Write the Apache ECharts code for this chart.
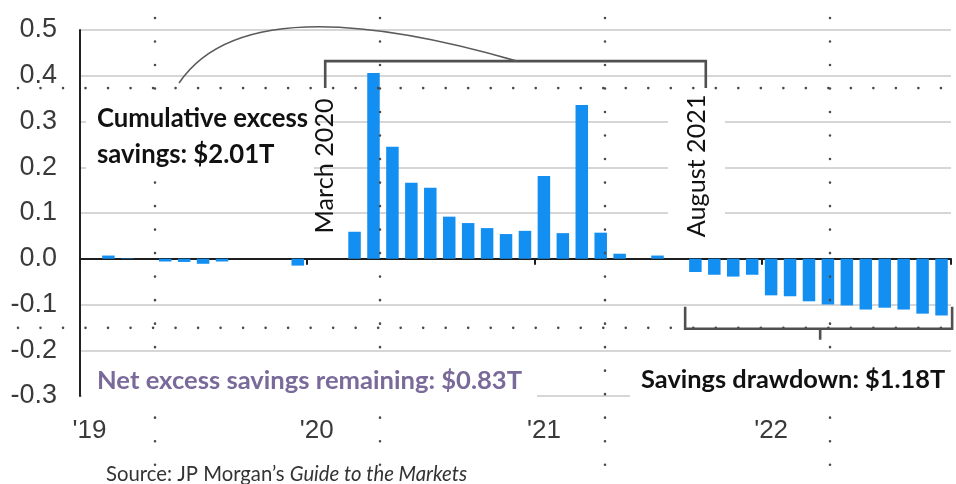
<!DOCTYPE html>
<html>
<head>
<meta charset="utf-8">
<script src="https://cdn.jsdelivr.net/npm/echarts@6/dist/echarts.min.js"></script>
<style>
  html, body { margin: 0; padding: 0; background: #fff; }
  #chart { width: 956px; height: 484px; }
</style>
</head>
<body>
<div id="chart"></div>
<script>
// Monthly change in US excess household savings (trillions of dollars), Jan 2019 - Oct 2022
const months = [
  '2019-01','2019-02','2019-03','2019-04','2019-05','2019-06','2019-07','2019-08','2019-09','2019-10','2019-11','2019-12',
  '2020-01','2020-02','2020-03','2020-04','2020-05','2020-06','2020-07','2020-08','2020-09','2020-10','2020-11','2020-12',
  '2021-01','2021-02','2021-03','2021-04','2021-05','2021-06','2021-07','2021-08','2021-09','2021-10','2021-11','2021-12',
  '2022-01','2022-02','2022-03','2022-04','2022-05','2022-06','2022-07','2022-08','2022-09','2022-10'
];
const excessSavings = [
  0, 0.007, 0.001, 0, -0.006, -0.007, -0.011, -0.006, 0, 0, 0, -0.015,
  0, 0, 0.059, 0.406, 0.245, 0.166, 0.155, 0.092, 0.078, 0.067, 0.054, 0.061,
  0.181, 0.056, 0.336, 0.057, 0.011, 0, 0.007, 0, -0.029, -0.035, -0.039, -0.035,
  -0.080, -0.082, -0.093, -0.100, -0.102, -0.111, -0.107, -0.111, -0.120, -0.124
];
const yearStarts = ['2019-01', '2020-01', '2021-01', '2022-01'];
const yearLabels = ["'19", "'20", "'21", "'22"];
const yMin = -0.3, yMax = 0.5, yStep = 0.1;

const chart = echarts.init(document.getElementById('chart'), null, { renderer: 'canvas' });

chart.setOption({
  animation: false,
  backgroundColor: '#ffffff',
  grid: { left: 80, right: 5, top: 30, bottom: 88, outerBoundsMode: 'none' },
  xAxis: [
    {
      // year labels along the bottom edge
      type: 'category',
      data: months,
      position: 'bottom',
      axisLine: { show: false, onZero: false },
      axisTick: { show: false },
      splitLine: { show: false },
      axisLabel: {
        interval: 0,
        margin: 22,
        fontSize: 26,
        fontFamily: 'Liberation Sans',
        color: '#3a3a3a',
        formatter: v => { const k = yearStarts.indexOf(v); return k >= 0 ? yearLabels[k] : ''; }
      }
    },
    {
      // baseline at zero with year-boundary ticks
      type: 'category',
      data: months,
      position: 'bottom',
      axisLine: { show: true, onZero: true, lineStyle: { color: '#1e1e1e', width: 2 } },
      axisTick: { show: true, length: 6, interval: i => i % 12 === 0, lineStyle: { color: '#1e1e1e', width: 2 } },
      axisLabel: { show: false },
      splitLine: { show: false }
    }
  ],
  yAxis: {
    type: 'value',
    min: yMin, max: yMax, interval: yStep,
    axisLine: { show: true, onZero: false, lineStyle: { color: '#222', width: 2 } },
    axisTick: { show: false },
    axisLabel: {
      margin: 23,
      fontSize: 27,
      fontFamily: 'Liberation Sans',
      color: '#3a3a3a',
      formatter: v => (Math.round(v * 10) / 10).toFixed(1)
    },
    splitLine: { lineStyle: { color: '#d6d6d6', width: 2 } }
  },
  series: [{
    type: 'bar',
    xAxisIndex: 0,
    yAxisIndex: 0,
    data: excessSavings,
    barWidth: 12.5,
    itemStyle: { color: '#138ff2' }
  }]
});

// Annotation overlay positioned from the axes' own scales
const x0 = chart.convertToPixel({ xAxisIndex: 0 }, 0);
const dx = chart.convertToPixel({ xAxisIndex: 0 }, 1) - x0;
const xAt = i => x0 + dx * i;                       // fractional month index -> px
const yAt = v => chart.convertToPixel({ yAxisIndex: 0 }, v);

const dotStyle = (gap) => ({ stroke: '#4a4a4a', lineWidth: 2.6, lineCap: 'round', lineDash: [0.01, gap] });
const bracketStyle = { stroke: '#505050', lineWidth: 2.6, fill: null };

const g = [];
// dotted quadrant guides
[155, 380, 605, 830].forEach(px => g.push({
  type: 'line', z: 50, silent: true,
  shape: { x1: px, y1: 18, x2: px, y2: 470 }, style: dotStyle(23.5)
}));
[yAt(0.373), yAt(-0.151)].forEach(py => g.push({
  type: 'line', z: 50, silent: true,
  shape: { x1: 18, y1: py, x2: 956, y2: py }, style: dotStyle(22.5)
}));

// white panels behind annotation text
const panel = (x1, y1, x2, y2) => ({
  type: 'rect', z: 60, silent: true,
  shape: { x: x1, y: y1, width: x2 - x1, height: y2 - y1 },
  style: { fill: '#ffffff' }
});
g.push(panel(86, 96, 314, 176));
g.push(panel(668, 93, 725, 250));
g.push(panel(82, 359, 537, 402));
g.push(panel(630, 359, 956, 402));

// bracket spanning March 2020 - August 2021
const bL = xAt(12.45), bR = xAt(32.55), bTop = yAt(0.432), bFoot = yAt(0.373);
g.push({ type: 'polyline', z: 70, shape: { points: [[bL, bFoot], [bL, bTop], [bR, bTop], [bR, bFoot]] }, style: bracketStyle });

// connector from the cumulative label to the bracket
g.push({
  type: 'bezierCurve', z: 70,
  shape: {
    x1: xAt(4.73), y1: yAt(0.384),
    cpx1: xAt(7.15), cpy1: yAt(0.533),
    cpx2: xAt(13.23), cpy2: yAt(0.544),
    x2: xAt(22.58), y2: yAt(0.432)
  },
  style: { stroke: '#5a5a5a', lineWidth: 1.6, fill: null }
});

// drawdown bracket under the negative bars
const dL = xAt(31.46), dR = xAt(45.56), dBase = yAt(-0.153), dTop = yAt(-0.105), dMid = xAt(38.59);
g.push({ type: 'polyline', z: 70, shape: { points: [[dL, dTop], [dL, dBase], [dR, dBase], [dR, dTop]] }, style: bracketStyle });
g.push({ type: 'line', z: 70, shape: { x1: dMid, y1: dBase, x2: dMid, y2: yAt(-0.177) }, style: bracketStyle });

// text
const txt = (text, x, y, font, fill) => ({
  type: 'text', z: 80, x: x, y: y,
  style: { text: text, x: 0, y: 0, font: font, fill: fill, align: 'left', verticalAlign: 'middle' }
});

g.push(txt('Cumulative excess', xAt(0.4), yAt(0.306), 'bold 25.7px Lato', '#111'));
g.push(txt('savings: $2.01T', xAt(0.4), yAt(0.227), 'bold 25.7px Lato', '#111'));
g.push(txt('Net excess savings remaining: $0.83T', xAt(0.4), yAt(-0.266), 'bold 25.6px Lato', '#7a6a9a'));
g.push(txt('Savings drawdown: $1.18T', xAt(29.13), yAt(-0.264), 'bold 25.4px Lato', '#111'));

const vtxt = (text, x, y) => ({
  type: 'text', z: 80, x: x, y: y, rotation: Math.PI / 2,
  style: { text: text, x: 0, y: 0, font: '25.2px Lato', fill: '#111', align: 'center', verticalAlign: 'middle' }
});
g.push(vtxt('March 2020', xAt(12.45), yAt(0.203)));
g.push(vtxt('August 2021', xAt(32.09), yAt(0.203)));

g.push({
  type: 'text', z: 80, x: 106, y: 474,
  style: {
    text: '{a|Source: JP Morgan\u2019s }{b|Guide to the Markets}',
    x: 0, y: 0, align: 'left', verticalAlign: 'middle',
    rich: {
      a: { font: '20.3px Lato', fill: '#333' },
      b: { font: 'italic 20.3px Lato', fill: '#333' }
    }
  }
});

chart.setOption({ graphic: { elements: g } });
</script>
</body>
</html>
